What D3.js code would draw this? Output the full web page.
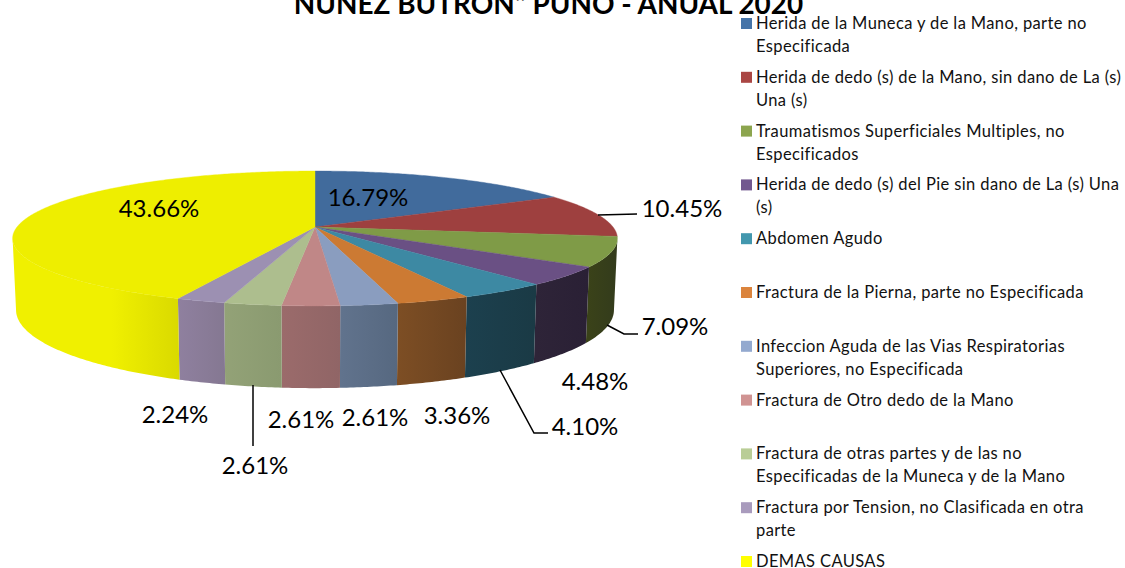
<!DOCTYPE html>
<html><head><meta charset="utf-8">
<script src="https://cdnjs.cloudflare.com/ajax/libs/d3/7.8.5/d3.min.js"></script>
<style>html,body{margin:0;padding:0;background:#fff;overflow:hidden}svg{display:block}text{font-family:Lato,"Open Sans",sans-serif}</style>
</head><body><svg id="c" width="1125" height="568"></svg>
<script>
const titleText = 'NUNEZ BUTRON" PUNO - ANUAL 2020';
const categories = [
 ["Herida de la Muneca y de la Mano, parte no","Especificada"],
 ["Herida de dedo (s) de la Mano, sin dano de La (s)","Una (s)"],
 ["Traumatismos Superficiales Multiples, no","Especificados"],
 ["Herida de dedo (s) del Pie sin dano de La (s) Una","(s)"],
 ["Abdomen Agudo"],
 ["Fractura de la Pierna, parte no Especificada"],
 ["Infeccion Aguda de las Vias Respiratorias","Superiores, no Especificada"],
 ["Fractura de Otro dedo de la Mano"],
 ["Fractura de otras partes y de las no","Especificadas de la Muneca y de la Mano"],
 ["Fractura por Tension, no Clasificada en otra","parte"],
 ["DEMAS CAUSAS"]
];
const values = [16.79,10.45,7.09,4.48,4.10,3.36,2.61,2.61,2.61,2.24,43.66];
const topColors = ["#416B9C","#9E403F","#7F9B47","#6A5084","#3D89A3","#CC7A33","#8A9DBF","#C08787","#ADBE8E","#9C90B2","#EEEE00"];
const legendColors = ["#4674A8","#AA4644","#8CA54E","#72588F","#4297AE","#DB843D","#93A9CF","#D09392","#B9CD96","#A99BBD","#FFFF00"];
const sideStart = ["#333","#333","#3A4219","#2E2438","#1C404E","#7D4E24","#61738D","#9B6B6B","#93A277","#8F809F","#F0F000"];
const sideEnd   = ["#333","#333","#333B1C","#2A2035","#1A3A45","#6A4220","#566880","#906566","#8A9A70","#857892","#DADA00"];
const labelX = [368,682,675,595,585,457,375,301,255,175,159];
const labelY = [197,208,326,381,426,415,417,419,465,414,208];
const leaders = [
 null,
 [[598,215],[637,214]],
 [[607,325],[624,334],[638,334]],
 null,
 [[500,370],[534,433],[548,433]],
 null,null,null,
 [[253,385],[253,446]],
 null,null
];

const svg = d3.select("#c");
const k = 0.17;
const top3d = {cx:315, cy:227, a:298, b:65.5};
const bot3d = {cx:315, cy:296.7, a:294.6, b:75.9};
function project(p, ang){
  const u = Math.sin(ang), v = -Math.cos(ang), d = 1 - k*v;
  return [p.cx + p.a*u/d, p.cy + p.b*v/d];
}
const pie = d3.pie().sort(null).value(d=>d);
const arcs = pie(values);
const line = d3.line();
function rim(p, a0, a1){
  const n = Math.max(2, Math.ceil((a1-a0)/0.01));
  return d3.range(n+1).map(i=>project(p, a0+(a1-a0)*i/n));
}
const defs = svg.append("defs");

// side faces, limited to the silhouette of the projected disc
const half = Math.acos(-k), last = 2*Math.PI - half;
const sides = arcs.map((d,i)=>({i,a0:Math.max(d.startAngle,half),a1:Math.min(d.endAngle,last)})).filter(s=>s.a1>s.a0);
sides.forEach(s=>{
  const pts = rim(top3d,s.a0,s.a1);
  const x0 = d3.min(pts,p=>p[0]), x1 = d3.max(pts,p=>p[0]);
  const g = defs.append("linearGradient").attr("id","g"+s.i).attr("gradientUnits","userSpaceOnUse")
    .attr("x1",x0).attr("x2",x1).attr("y1",0).attr("y2",0);
  g.append("stop").attr("offset",0).attr("stop-color",sideStart[s.i]);
  if(s.i===10) g.append("stop").attr("offset",0.6).attr("stop-color",sideStart[s.i]);
  g.append("stop").attr("offset",1).attr("stop-color",sideEnd[s.i]);
});
svg.append("g").selectAll("path").data(sides).join("path")
  .attr("d",s=>{
    const a = rim(top3d,s.a0,s.a1), b = rim(bot3d,s.a0,s.a1).reverse();
    return line(a.concat(b))+"Z";
  })
  .attr("fill",s=>`url(#g${s.i})`);

// top faces
svg.append("g").selectAll("path").data(arcs).join("path")
  .attr("d",d=>line([[top3d.cx,top3d.cy]].concat(rim(top3d,d.startAngle,d.endAngle)))+"Z")
  .attr("fill",(d,i)=>topColors[i]).attr("stroke",(d,i)=>topColors[i]).attr("stroke-width",0.4);

// leaders
svg.append("g").selectAll("path").data(leaders.filter(Boolean)).join("path")
  .attr("d",d=>line(d)).attr("fill","none").attr("stroke","#000").attr("stroke-width",1.5);

// value labels
svg.append("g").selectAll("text").data(values).join("text")
  .attr("x",(d,i)=>labelX[i]).attr("y",(d,i)=>labelY[i]+8.5)
  .attr("text-anchor","middle").attr("font-size",24).attr("fill","#000")
  .text(d=>d.toFixed(2)+"%");

// title
svg.append("text").attr("x",548.5).attr("y",14).attr("text-anchor","middle")
  .attr("font-size",27.9).attr("font-weight",700).attr("fill","#000").text(titleText);

// legend
const lg = svg.append("g").selectAll("g").data(categories).join("g")
  .attr("transform",(d,i)=>`translate(741,${18+53.8*i})`);
lg.append("rect").attr("width",11).attr("height",11).attr("fill",(d,i)=>legendColors[i]);
lg.selectAll("text").data(d=>d).join("text")
  .attr("x",15).attr("y",(d,j)=>11+j*23).attr("font-size",16.5).attr("letter-spacing",0.38).attr("fill","#111").text(d=>d);
</script></body></html>
